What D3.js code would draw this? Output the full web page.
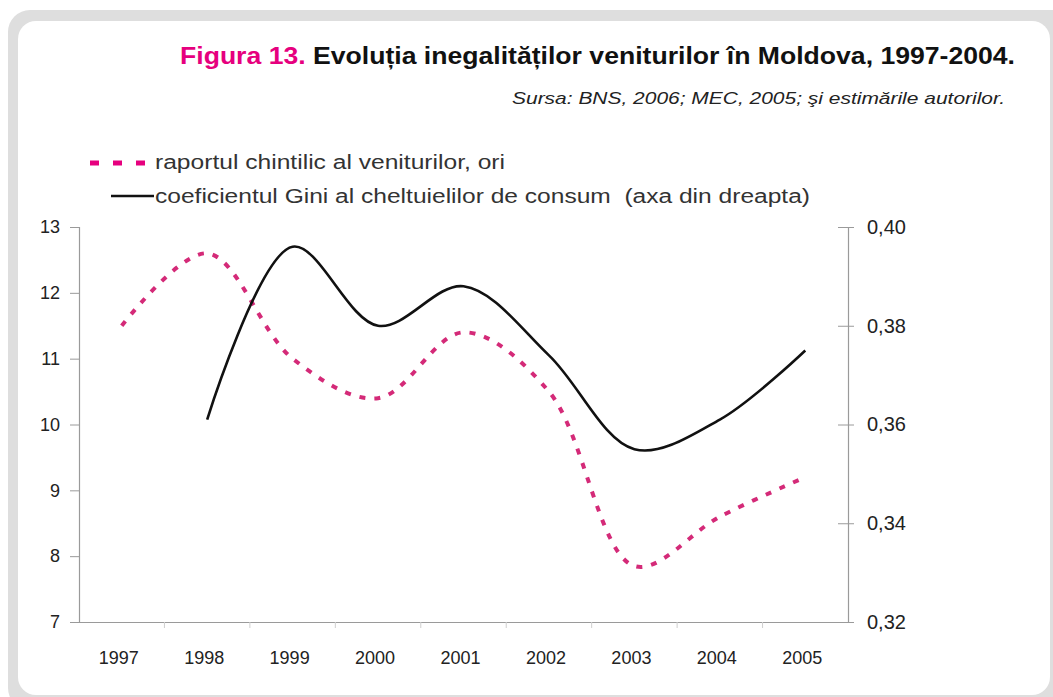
<!DOCTYPE html>
<html>
<head>
<meta charset="utf-8">
<script src="https://cdn.jsdelivr.net/npm/d3@7"></script>
<style>
  html, body { margin: 0; padding: 0; background: #fff; }
  svg { display: block; font-family: "Liberation Sans", Arial, sans-serif; }
</style>
</head>
<body>
<div id="chart"></div>
<script>
(function () {
  'use strict';

  // data
  var years = ['1997', '1998', '1999', '2000', '2001', '2002', '2003', '2004', '2005'];
  var quintileRatio = [11.5, 12.6, 11.0, 10.4, 11.4, 10.5, 7.85, 8.6, 9.2];
  var giniCoef = [null, 0.361, 0.396, 0.380, 0.388, 0.374, 0.355, 0.361, 0.375];
  var leftTicks = [7, 8, 9, 10, 11, 12, 13];
  var rightTicks = [0.32, 0.34, 0.36, 0.38, 0.40];

  var width = 1053, height = 697;
  var pink = '#e6007e';

  var svg = d3.select('#chart').append('svg')
    .attr('width', width)
    .attr('height', height);

  // grey rounded frame
  svg.append('rect')
    .attr('x', 8).attr('y', 10)
    .attr('width', 1070).attr('height', 700)
    .attr('rx', 22)
    .attr('fill', '#dedede');
  svg.append('rect')
    .attr('x', 18).attr('y', 21)
    .attr('width', 1032).attr('height', 674)
    .attr('rx', 18)
    .attr('fill', '#fff');

  // title
  var title = svg.append('text')
    .attr('x', 1015).attr('y', 64)
    .attr('text-anchor', 'end')
    .attr('font-size', 23)
    .attr('font-weight', 'bold')
    .attr('textLength', 835)
    .attr('lengthAdjust', 'spacingAndGlyphs');
  title.append('tspan').attr('fill', pink).text('Figura 13. ');
  title.append('tspan').attr('fill', '#111').text('Evoluția inegalităților veniturilor în Moldova, 1997-2004.');

  svg.append('text')
    .attr('x', 1005).attr('y', 104)
    .attr('text-anchor', 'end')
    .attr('font-size', 17)
    .attr('font-style', 'italic')
    .attr('fill', '#222')
    .attr('textLength', 493)
    .attr('lengthAdjust', 'spacingAndGlyphs')
    .text('Sursa: BNS, 2006; MEC, 2005; şi estimările autorilor.');

  // scales
  var left = 79, right = 848, top = 227, bottom = 622;
  var x = d3.scaleBand().domain(years).range([left, right]);
  var yL = d3.scaleLinear().domain([7, 13]).range([bottom, top]);
  var yR = d3.scaleLinear().domain([0.32, 0.40]).range([bottom, top]);
  var cx = function(d, i) { return x(years[i]) + x.bandwidth() / 2; };

  // axes
  var axisColor = '#9a9a9a';
  var gL = svg.append('g').attr('transform', 'translate(' + left + ',0)')
    .call(d3.axisLeft(yL).tickValues(leftTicks).tickSize(9).tickPadding(10).tickFormat(d3.format('d')));
  var gR = svg.append('g').attr('transform', 'translate(' + right + ',0)')
    .call(d3.axisRight(yR).tickValues(rightTicks).tickSize(6).tickPadding(13)
      .tickFormat(function(d) { return d3.format('.2f')(d).replace('.', ','); }));
  gR.selectAll('.tick line').attr('x1', -10);
  var gB = svg.append('g').attr('transform', 'translate(0,' + bottom + ')')
    .call(d3.axisBottom(x).tickSize(0).tickPadding(29));
  gB.selectAll('.tick text').attr('dx', -3);

  [gL, gR, gB].forEach(function(g) {
    g.select('.domain').attr('stroke', axisColor).attr('stroke-width', 1.2);
    g.selectAll('.tick line').attr('stroke', axisColor);
    g.selectAll('.tick text')
      .attr('font-size', 18)
      .attr('font-family', '"Liberation Sans", Arial, sans-serif')
      .attr('fill', '#222');
  });
  gR.selectAll('.tick text').attr('font-size', 20);
  // small ticks between categories
  svg.append('g').selectAll('line')
    .data(years.slice(1))
    .enter().append('line')
    .attr('x1', function(d) { return x(d); })
    .attr('x2', function(d) { return x(d); })
    .attr('y1', bottom).attr('y2', bottom + 6)
    .attr('stroke', '#cfcfcf');

  // lines
  var ratioLine = d3.line()
    .x(cx)
    .y(function(d) { return yL(d); })
    .curve(d3.curveCatmullRom.alpha(0.5));
  var giniLine = d3.line()
    .defined(function(d) { return d !== null; })
    .x(cx)
    .y(function(d) { return yR(d); })
    .curve(d3.curveCatmullRom.alpha(0.5));

  svg.append('path')
    .datum(quintileRatio)
    .attr('d', ratioLine)
    .attr('fill', 'none')
    .attr('stroke', '#d42a78')
    .attr('stroke-width', 4)
    .attr('stroke-dasharray', '6,9');

  svg.append('path')
    .datum(giniCoef)
    .attr('d', giniLine)
    .attr('fill', 'none')
    .attr('stroke', '#111')
    .attr('stroke-width', 2.6);

  // legend
  var legend = svg.append('g');
  legend.append('line')
    .attr('x1', 90).attr('x2', 146).attr('y1', 163).attr('y2', 163)
    .attr('stroke', pink).attr('stroke-width', 5)
    .attr('stroke-dasharray', '9,14');
  legend.append('text')
    .attr('x', 155).attr('y', 169)
    .attr('font-size', 20).attr('fill', '#333')
    .attr('textLength', 350)
    .attr('lengthAdjust', 'spacingAndGlyphs')
    .text('raportul chintilic al veniturilor, ori');
  legend.append('line')
    .attr('x1', 111).attr('x2', 154).attr('y1', 196).attr('y2', 196)
    .attr('stroke', '#111').attr('stroke-width', 2.6);
  legend.append('text')
    .attr('x', 155).attr('y', 203)
    .attr('font-size', 20).attr('fill', '#333')
    .attr('xml:space', 'preserve')
    .attr('textLength', 655)
    .attr('lengthAdjust', 'spacingAndGlyphs')
    .text('coeficientul Gini al cheltuielilor de consum  (axa din dreapta)');
}());
</script>
</body>
</html>
